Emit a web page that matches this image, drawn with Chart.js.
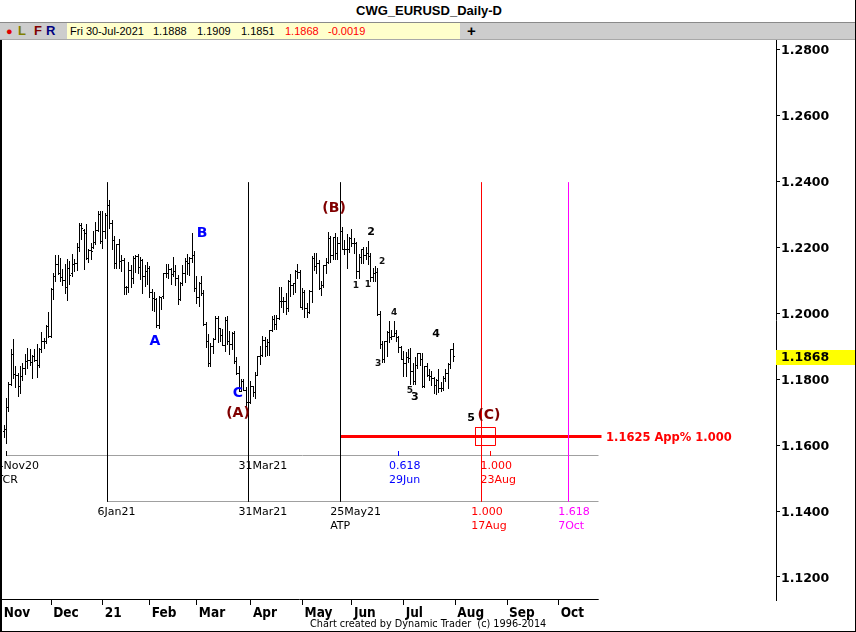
<!DOCTYPE html>
<html>
<head>
<meta charset="utf-8">
<script src="https://cdn.jsdelivr.net/npm/chart.js@4.4.1/dist/chart.umd.min.js"></script>
<style>
  body { margin: 0; background: #fff; }
  #wrap { position: relative; width: 856px; height: 632px; overflow: hidden; background: #fff; }
  #title { position: absolute; left: 0; top: 3px; width: 858px; text-align: center; font: bold 13px "Liberation Sans", Arial, sans-serif; color: #000; }
  #tool { position: absolute; left: 0; top: 22px; width: 856px; height: 16px; background: #cdcdcd; border-top: 1px solid #8a8a8a; border-bottom: 1px solid #a8a8a8; font: bold 13px "Liberation Sans", Arial, sans-serif; }
  #tool span { position: absolute; top: 0px; line-height: 16px; }
  #info { position: absolute; left: 67px; top: 0; width: 393px; height: 16px; background: #ffffcc; font: 11px "Liberation Sans", Arial, sans-serif; }
  #info span { position: absolute; top: 0; line-height: 16px; white-space: nowrap; }
  #chart { position: absolute; left: 0; top: 40px; }
  #foot { position: absolute; left: 310px; top: 617px; font: 10.8px "Liberation Sans Narrow", "DejaVu Sans Condensed", sans-serif; color: #000; white-space: pre; }
  .edge { position: absolute; background: #000; }
</style>
</head>
<body>
<div id="wrap">
  <div id="title">CWG_EURUSD_Daily-D</div>
  <div id="tool">
    <span style="left:6px;color:#e00000;font-size:11px">&#9679;</span>
    <span style="left:18px;color:#808000">L</span>
    <span style="left:34px;color:#800000">F</span>
    <span style="left:46px;color:#000080">R</span>
    <div id="info">
      <span style="left:3px">Fri 30-Jul-2021</span>
      <span style="left:86px">1.1888</span>
      <span style="left:130px">1.1909</span>
      <span style="left:174px">1.1851</span>
      <span style="left:218px;color:#ff0000">1.1868</span>
      <span style="left:261px;color:#ff0000">-0.0019</span>
    </div>
    <span style="left:467px;font-size:15px">+</span>
  </div>
  <canvas id="chart" width="856" height="592"></canvas>
  <div id="foot">Chart created by Dynamic Trader  (c) 1996-2014</div>
  <div class="edge" style="left:0;top:40px;width:2px;height:592px"></div>
  <div class="edge" style="left:855px;top:0;width:1px;height:632px"></div>
  <div class="edge" style="left:0;top:631px;width:856px;height:1px"></div>
</div>
<script>
// trading calendar (weekdays, holidays dropped) used as the x axis
const holidays = ['2020-12-25', '2021-01-01'];
const calendar = [];
for (let d = Date.UTC(2020, 10, 2); d <= Date.UTC(2021, 9, 29); d += 864e5) {
  const dt = new Date(d);
  const s = dt.toISOString().slice(0, 10);
  if (dt.getUTCDay() > 0 && dt.getUTCDay() < 6 && !holidays.includes(s)) calendar.push(s);
}
const idx = s => calendar.indexOf(s);

const monthLabels = ['Nov', 'Dec', '21', 'Feb', 'Mar', 'Apr', 'May', 'Jun', 'Jul', 'Aug', 'Sep', 'Oct'];

// daily bars, first one is 3-Nov-2020, last one 30-Jul-2021
const firstBar = '2020-11-03';
const openP = [
  1.1640,1.1648,1.1715,1.1782,1.1873,1.1813,1.1812,1.1776,1.1808,1.1833,1.1853,1.1857,1.1851,1.1867,1.1857,1.1840,1.1890,1.1915,1.1915,1.1960,
  1.1928,1.2072,1.2112,1.2146,1.2120,1.2108,1.2100,1.2078,1.2135,1.2120,1.2146,1.2150,1.2197,1.2265,1.2250,1.2240,1.2165,1.2188,1.2200,1.2214,1.2250,1.2297,
  1.2216,1.2247,1.2296,1.2326,1.2272,1.2220,1.2151,1.2207,1.2155,1.2158,1.2078,1.2076,1.2130,1.2105,1.2164,1.2171,1.2139,1.2160,1.2110,1.2125,
  1.2136,1.2063,1.2043,1.2040,1.1963,1.2046,1.2049,1.2120,1.2120,1.2133,1.2118,1.2125,1.2105,1.2040,1.2090,1.2120,1.2157,1.2150,1.2165,1.2175,
  1.2075,1.2047,1.2090,1.2060,1.1965,1.1915,1.1847,1.1900,1.1920,1.1984,1.1952,1.1931,1.1903,1.1978,1.1915,1.1905,1.1937,1.1853,1.1816,1.1763,1.1793,1.1764,1.1729,
  1.1730,1.1778,1.1760,1.1812,1.1868,1.1872,1.1916,1.1899,1.1911,1.1946,1.1979,1.1965,1.1984,1.2036,1.2035,1.2034,1.2013,1.2096,1.2082,1.2089,1.2125,1.2124,
  1.2018,1.2062,1.2014,1.2003,1.2064,1.2165,1.2140,1.2150,1.2075,1.2082,1.2143,1.2153,1.2225,1.2175,1.2228,1.2180,1.2212,1.2248,1.2192,1.2193,1.2192,
  1.2225,1.2212,1.2211,1.2126,1.2167,1.2191,1.2175,1.2180,1.2172,1.2108,1.2120,1.2124,1.1995,1.1905,1.1860,1.1915,1.1940,1.1925,1.1930,1.1937,1.1925,1.1895,
  1.1858,1.1848,1.1866,1.1863,1.1822,1.1793,1.1842,1.1876,1.1860,1.1777,1.1837,1.1812,1.1807,1.1802,1.1780,1.1794,1.1771,1.1771,1.1801,1.1818,1.1843,1.1888
];
const highP = [
  1.1660,1.1742,1.1790,1.1891,1.1920,1.1838,1.1818,1.1838,1.1847,1.1875,1.1895,1.1892,1.1873,1.1890,1.1905,1.1893,1.1942,1.1925,1.1965,1.2004,
  1.2077,1.2122,1.2176,1.2177,1.2168,1.2133,1.2148,1.2163,1.2159,1.2178,1.2163,1.2211,1.2273,1.2272,1.2255,1.2271,1.2194,1.2212,1.2250,1.2276,1.2310,1.2310,
  1.2310,1.2302,1.2349,1.2343,1.2282,1.2233,1.2209,1.2224,1.2177,1.2166,1.2083,1.2154,1.2144,1.2172,1.2175,1.2180,1.2169,1.2164,1.2145,1.2155,
  1.2141,1.2072,1.2064,1.2044,1.2051,1.2050,1.2120,1.2150,1.2149,1.2135,1.2169,1.2144,1.2115,1.2093,1.2145,1.2168,1.2180,1.2170,1.2243,1.2188,
  1.2113,1.2093,1.2113,1.2070,1.1974,1.1935,1.1910,1.1925,1.1990,1.1990,1.1956,1.1952,1.1988,1.1990,1.1945,1.1942,1.1945,1.1866,1.1838,1.1800,1.1800,1.1777,1.1750,
  1.1793,1.1780,1.1820,1.1870,1.1900,1.1930,1.1928,1.1920,1.1950,1.1990,1.1994,1.1994,1.2080,1.2079,1.2048,1.2060,1.2100,1.2117,1.2090,1.2130,1.2150,1.2130,
  1.2077,1.2070,1.2030,1.2070,1.2173,1.2182,1.2181,1.2160,1.2096,1.2146,1.2168,1.2245,1.2232,1.2230,1.2243,1.2230,1.2266,1.2262,1.2220,1.2240,1.2230,
  1.2254,1.2227,1.2215,1.2180,1.2195,1.2200,1.2200,1.2218,1.2182,1.2135,1.2143,1.2137,1.2005,1.1915,1.1916,1.1945,1.1975,1.1950,1.1975,1.1950,1.1930,1.1900,
  1.1885,1.1881,1.1890,1.1895,1.1850,1.1868,1.1880,1.1880,1.1880,1.1838,1.1850,1.1830,1.1823,1.1805,1.1800,1.1830,1.1790,1.1810,1.1830,1.1850,1.1890,1.1909
];
const lowP = [
  1.1622,1.1604,1.1700,1.1780,1.1800,1.1774,1.1745,1.1755,1.1793,1.1811,1.1830,1.1838,1.1800,1.1852,1.1802,1.1833,1.1880,1.1890,1.1905,1.1925,
  1.1924,1.2038,1.2093,1.2115,1.2094,1.2083,1.2059,1.2037,1.2084,1.2110,1.2124,1.2127,1.2185,1.2222,1.2129,1.2160,1.2153,1.2160,1.2195,1.2205,1.2245,1.2209,
  1.2193,1.2225,1.2254,1.2254,1.2192,1.2132,1.2133,1.2134,1.2123,1.2054,1.2054,1.2061,1.2077,1.2087,1.2122,1.2117,1.2101,1.2059,1.2079,1.2085,
  1.2046,1.2006,1.2004,1.1956,1.1952,1.2010,1.2043,1.2107,1.2103,1.2084,1.2110,1.2083,1.2024,1.2036,1.2082,1.2091,1.2115,1.2112,1.2152,1.2063,
  1.2028,1.2017,1.2051,1.1962,1.1893,1.1836,1.1835,1.1876,1.1918,1.1910,1.1912,1.1900,1.1883,1.1904,1.1873,1.1888,1.1845,1.1812,1.1762,1.1760,1.1763,1.1711,1.1704,
  1.1725,1.1745,1.1740,1.1810,1.1843,1.1866,1.1868,1.1870,1.1870,1.1943,1.1950,1.1948,1.1980,1.2016,1.2000,1.1993,1.2004,1.2050,1.2056,1.2060,1.2104,1.2015,
  1.2010,1.1986,1.1985,1.1998,1.2030,1.2127,1.2118,1.2070,1.2051,1.2076,1.2117,1.2150,1.2152,1.2160,1.2161,1.2160,1.2210,1.2190,1.2175,1.2133,1.2182,
  1.2200,1.2180,1.2104,1.2104,1.2147,1.2150,1.2160,1.2144,1.2093,1.2093,1.2095,1.1990,1.1890,1.1847,1.1848,1.1868,1.1910,1.1918,1.1926,1.1911,1.1880,1.1857,
  1.1807,1.1807,1.1850,1.1782,1.1782,1.1781,1.1830,1.1838,1.1772,1.1773,1.1805,1.1795,1.1780,1.1756,1.1752,1.1757,1.1762,1.1763,1.1790,1.1770,1.1830,1.1851
];
const closeP = [
  1.1648,1.1715,1.1782,1.1873,1.1813,1.1812,1.1776,1.1808,1.1833,1.1853,1.1857,1.1851,1.1867,1.1857,1.1840,1.1890,1.1915,1.1915,1.1960,1.1928,
  1.2072,1.2112,1.2146,1.2120,1.2108,1.2100,1.2078,1.2135,1.2113,1.2146,1.2150,1.2197,1.2265,1.2255,1.2240,1.2165,1.2188,1.2187,1.2214,1.2250,1.2297,1.2216,
  1.2247,1.2296,1.2326,1.2272,1.2220,1.2151,1.2207,1.2155,1.2158,1.2078,1.2076,1.2130,1.2105,1.2164,1.2171,1.2139,1.2160,1.2110,1.2125,1.2136,
  1.2063,1.2043,1.2040,1.1963,1.2046,1.2049,1.2120,1.2120,1.2133,1.2118,1.2125,1.2105,1.2040,1.2090,1.2120,1.2157,1.2150,1.2165,1.2175,1.2075,
  1.2047,1.2090,1.2060,1.1965,1.1915,1.1847,1.1900,1.1920,1.1984,1.1952,1.1931,1.1903,1.1978,1.1915,1.1905,1.1937,1.1853,1.1816,1.1763,1.1793,1.1764,1.1729,1.1730,
  1.1778,1.1760,1.1812,1.1868,1.1872,1.1916,1.1899,1.1911,1.1946,1.1979,1.1965,1.1984,1.2036,1.2035,1.2034,1.2013,1.2096,1.2082,1.2089,1.2125,1.2124,1.2018,
  1.2062,1.2014,1.2003,1.2064,1.2165,1.2140,1.2150,1.2075,1.2082,1.2143,1.2153,1.2225,1.2175,1.2228,1.2180,1.2212,1.2248,1.2192,1.2193,1.2192,1.2225,
  1.2212,1.2211,1.2126,1.2167,1.2191,1.2175,1.2180,1.2172,1.2108,1.2120,1.2124,1.1995,1.1905,1.1860,1.1915,1.1940,1.1925,1.1930,1.1937,1.1925,1.1895,1.1858,
  1.1848,1.1866,1.1863,1.1822,1.1793,1.1842,1.1876,1.1860,1.1777,1.1837,1.1812,1.1807,1.1802,1.1780,1.1794,1.1771,1.1771,1.1801,1.1818,1.1843,1.1888,1.1868
];

// time lines, rulers and the price target
const timeLineDates = ['2021-01-06', '2021-03-31', '2021-05-25', '2021-08-17', '2021-10-07'];
const timeLineColors = ['#000000', '#000000', '#000000', '#ff0000', '#ff00ff'];
const timeLineTop = 1.2394, timeLineBottom = 1.14273;
const rulerStart = ['2020-11-04', '2021-01-06'];
const rulerLevels = [1.15667, 1.14273];
const rulerEnd = '2021-10-26';
const rulerTicks = ['2020-11-04', '2021-06-29', '2021-08-23'];
const rulerTickColors = ['#000000', '#0000ff', '#ff0000'];
const rulerLabels = [
  { date: '2020-11-04', row: 0, top: '4Nov20', bottom: 'TCR', color: '#000000' },
  { date: '2021-03-31', row: 0, top: '31Mar21', bottom: '', color: '#000000' },
  { date: '2021-06-29', row: 0, top: '0.618', bottom: '29Jun', color: '#0000ff' },
  { date: '2021-08-23', row: 0, top: '1.000', bottom: '23Aug', color: '#ff0000' },
  { date: '2021-01-06', row: 1, top: '6Jan21', bottom: '', color: '#000000' },
  { date: '2021-03-31', row: 1, top: '31Mar21', bottom: '', color: '#000000' },
  { date: '2021-05-25', row: 1, top: '25May21', bottom: 'ATP', color: '#000000' },
  { date: '2021-08-17', row: 1, top: '1.000', bottom: '17Aug', color: '#ff0000' },
  { date: '2021-10-07', row: 1, top: '1.618', bottom: '7Oct', color: '#ff00ff' }
];
const targetPrice = 1.1625;
const targetFrom = '2021-05-25', targetTo = '2021-10-27';
const targetText = '1.1625 App% 1.000';
const boxIdx = [201.5, 210];          // trading-day index span of the target box
const boxPrice = [1.1597, 1.1654];

// wave counts: text, trading-day index, price, style
const waveLabels = [
  ['(B)', 141.4, 1.2318, 'major'], ['B', 85.2, 1.2242, 'minor'], ['A', 65.2, 1.1915, 'minor'],
  ['C', 100.5, 1.1755, 'minor'], ['(A)', 100.5, 1.1697, 'major'], ['(C)', 207.3, 1.1691, 'major'],
  ['2', 157.1, 1.2246, 'num'], ['2', 161.8, 1.2155, 'small'], ['1', 150.7, 1.2082, 'small'],
  ['1', 155.8, 1.2085, 'small'], ['3', 160.1, 1.1846, 'small'], ['4', 166.9, 1.2000, 'small'],
  ['4', 184.8, 1.1936, 'num'], ['5', 173.7, 1.1764, 'small'], ['3', 175.8, 1.1746, 'num'],
  ['5', 199.7, 1.1682, 'num']
];
const waveStyles = {
  major: { font: 'bold 14px "DejaVu Sans", sans-serif', color: '#800000' },
  minor: { font: 'bold 14px "DejaVu Sans", sans-serif', color: '#0000ff' },
  num: { font: 'bold 11px "DejaVu Sans", sans-serif', color: '#000000' },
  small: { font: 'bold 9px "DejaVu Sans", sans-serif', color: '#111111' }
};

const start = idx(firstBar);
const barIdx = closeP.map((_, i) => start + i);
const monthStarts = calendar.map((d, i) => i).filter(i => i === 0 || calendar[i].slice(5, 7) !== calendar[i - 1].slice(5, 7));

function tickImage(side) {
  const c = document.createElement('canvas');
  c.width = 3; c.height = 1;
  const g = c.getContext('2d');
  g.fillStyle = '#000';
  g.fillRect(side === 'left' ? 0 : 2, 0, 1, 1);
  return c;
}

const lineSet = (pts, color, width) => ({
  type: 'line', data: pts, borderColor: color, borderWidth: width,
  pointRadius: 0, fill: false, tension: 0
});

const datasets = [
  {
    type: 'bar',
    data: barIdx.map((x, i) => ({ x: x, y: [lowP[i], highP[i]] })),
    backgroundColor: '#000', borderWidth: 0, barThickness: 1, inflateAmount: 0, grouped: false
  },
  {
    type: 'line', showLine: false,
    data: barIdx.map((x, i) => ({ x: x, y: closeP[i] })),
    pointStyle: tickImage('right'), pointRadius: 1
  },
  {
    type: 'line', showLine: false,
    data: barIdx.map((x, i) => ({ x: x, y: openP[i] })),
    pointStyle: tickImage('left'), pointRadius: 1
  }
];
timeLineDates.forEach((d, i) => {
  datasets.push(lineSet([{ x: idx(d), y: timeLineTop }, { x: idx(d), y: timeLineBottom }], timeLineColors[i], 1));
});
rulerLevels.forEach((p, i) => {
  datasets.push(lineSet([{ x: idx(rulerStart[i]), y: p }, { x: idx(rulerEnd), y: p }], '#a0a0a0', 1));
});
datasets.push(lineSet([{ x: idx(targetFrom), y: targetPrice }, { x: idx(targetTo), y: targetPrice }], '#ff0000', 3));
datasets.push(lineSet([
  { x: boxIdx[0], y: boxPrice[0] }, { x: boxIdx[1], y: boxPrice[0] }, { x: boxIdx[1], y: boxPrice[1] },
  { x: boxIdx[0], y: boxPrice[1] }, { x: boxIdx[0], y: boxPrice[0] }
], '#ff0000', 1));

// snap the computed element positions to whole pixels so 1px bars stay crisp
const snap = {
  id: 'snap',
  afterDatasetsUpdate(chart) {
    chart.data.datasets.forEach((ds, i) => {
      chart.getDatasetMeta(i).data.forEach(el => {
        el.x = Math.floor(el.x) + 0.5;
        if (ds.type === 'bar') {
          el.y = Math.round(el.y);
          el.base = Math.round(el.base);
        } else {
          el.y = Math.floor(el.y) + 0.5;
        }
      });
    });
  }
};

const annotate = {
  id: 'annotate',
  afterDatasetsDraw(chart) {
    const ctx = chart.ctx;
    const xs = chart.scales.x, ys = chart.scales.y;
    const px = d => xs.getPixelForValue(typeof d === 'string' ? idx(d) : d);
    const py = p => ys.getPixelForValue(p);
    ctx.save();
    ctx.lineWidth = 1;
    rulerTicks.forEach((d, i) => {
      const x = Math.floor(px(d)) + 0.5, y = Math.round(py(rulerLevels[0]));
      ctx.strokeStyle = rulerTickColors[i];
      ctx.beginPath(); ctx.moveTo(x, y); ctx.lineTo(x, y - 5); ctx.stroke();
    });
    ctx.font = '11px "DejaVu Sans", sans-serif';
    ctx.textAlign = 'left';
    ctx.textBaseline = 'middle';
    rulerLabels.forEach(l => {
      const x = px(l.date) - 10, y = py(rulerLevels[l.row]);
      ctx.fillStyle = l.color;
      ctx.fillText(l.top, x, y + 10);
      if (l.bottom) ctx.fillText(l.bottom, x, y + 24);
    });
    ctx.textAlign = 'center';
    waveLabels.forEach(([t, x, p, s]) => {
      ctx.font = waveStyles[s].font;
      ctx.fillStyle = waveStyles[s].color;
      ctx.fillText(t, px(x), py(p));
    });
    ctx.textAlign = 'left';
    ctx.font = 'bold 11.5px "DejaVu Sans", sans-serif';
    ctx.fillStyle = '#ff0000';
    ctx.fillText(targetText, px(targetTo) + 5, py(targetPrice) + 1);
    ctx.restore();
  },
  afterDraw(chart) {
    const ctx = chart.ctx, area = chart.chartArea;
    const xs = chart.scales.x, ys = chart.scales.y;
    ctx.save();
    // time axis base line stops where the rulers stop
    ctx.strokeStyle = '#000';
    ctx.lineWidth = 1;
    ctx.beginPath();
    ctx.moveTo(area.left, Math.round(area.bottom) - 0.5);
    ctx.lineTo(xs.getPixelForValue(idx(rulerEnd)), Math.round(area.bottom) - 0.5);
    ctx.stroke();
    // last price tag
    const last = closeP[closeP.length - 1];
    const y = ys.getPixelForValue(last);
    ctx.fillStyle = '#ffff00';
    ctx.fillRect(area.right, Math.round(y) - 7, chart.width - area.right, 15);
    ctx.fillStyle = '#000';
    ctx.font = 'bold 12.5px "DejaVu Sans", sans-serif';
    ctx.textBaseline = 'middle';
    ctx.fillText(last.toFixed(4), area.right + 5, Math.round(y) + 1);
    ctx.restore();
  }
};

new Chart(document.getElementById('chart'), {
  type: 'bar',
  data: { datasets: datasets },
  options: {
    responsive: false,
    animation: false,
    events: [],
    layout: { padding: 0, autoPadding: false },
    plugins: { legend: { display: false }, tooltip: { enabled: false } },
    scales: {
      x: {
        type: 'linear',
        offset: false,
        min: -1.8 / 2.35,
        max: -1.8 / 2.35 + 776 / 2.35,
        grid: { display: true, offset: false, drawOnChartArea: false, drawTicks: true, tickLength: 5, color: '#000' },
        border: { display: false },
        afterBuildTicks: scale => { scale.ticks = monthStarts.map(v => ({ value: v })); },
        afterFit: scale => { scale.height = 32; scale.paddingLeft = 0; scale.paddingRight = 0; },
        ticks: {
          autoSkip: false, maxRotation: 0, align: 'start', padding: 0, labelOffset: 2, color: '#000',
          font: { family: '"Liberation Sans Narrow", "DejaVu Sans Condensed", sans-serif', size: 13.5, weight: 'bold' },
          callback: (v, i) => monthLabels[i]
        }
      },
      y: {
        position: 'right',
        min: 1.11303,
        max: 1.28273,
        grid: { display: true, drawOnChartArea: false, drawTicks: true, tickLength: 4, color: '#000' },
        border: { display: true, color: '#000', width: 1 },
        afterFit: scale => { scale.width = 80; scale.paddingTop = 0; scale.paddingBottom = 0; },
        ticks: {
          stepSize: 0.02, includeBounds: false, padding: 1, labelOffset: 2, color: '#000',
          font: { family: '"DejaVu Sans", sans-serif', size: 12.5, weight: 'bold' },
          callback: v => v.toFixed(4)
        }
      }
    }
  },
  plugins: [snap, annotate]
});
</script>
</body>
</html>
